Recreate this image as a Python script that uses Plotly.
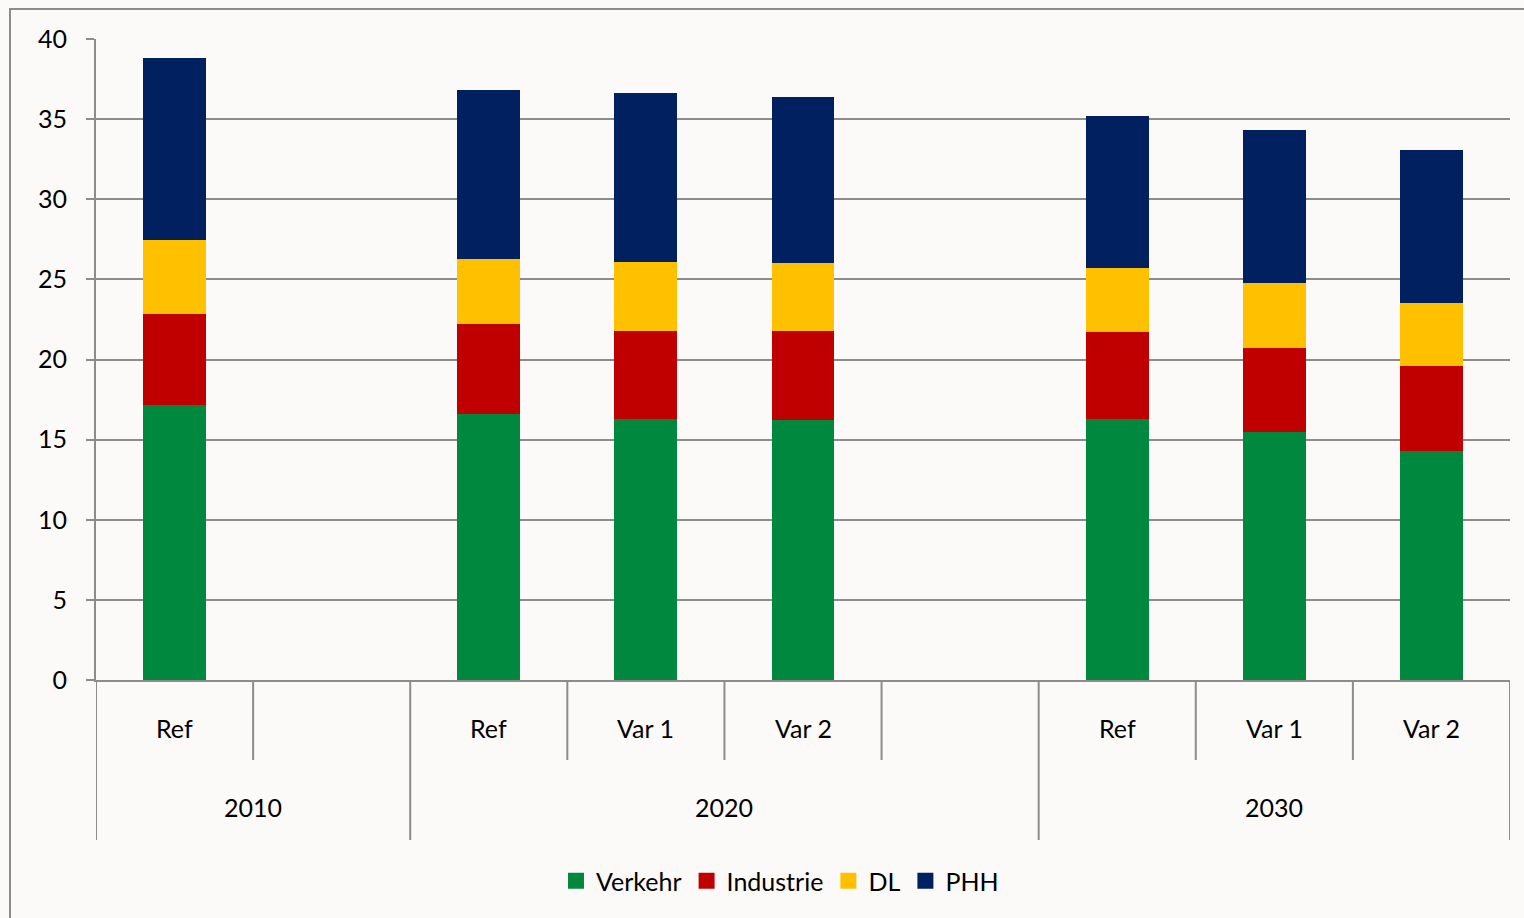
import plotly.graph_objects as go

# ---- data ----
years = ["2010", "2010", "2020", "2020", "2020", "2020", "2030", "2030", "2030"]
scenarios = ["Ref", "", "Ref", "Var 1", "Var 2", "", "Ref", "Var 1", "Var 2"]
verkehr   = [17.15, None, 16.6, 16.3, 16.2, None, 16.3, 15.5, 14.3]
industrie = [5.7,   None, 5.6,  5.5,  5.6,  None, 5.4,  5.2,  5.3]
dl        = [4.6,   None, 4.1,  4.3,  4.2,  None, 4.0,  4.1,  3.9]
phh       = [11.35, None, 10.5, 10.5, 10.4, None, 9.5,  9.5,  9.6]
series_names = ["Verkehr", "Industrie", "DL", "PHH"]
series_values = [verkehr, industrie, dl, phh]
series_colors = ["#00893E", "#C00000", "#FFC000", "#002060"]
y_ticks = [0, 5, 10, 15, 20, 25, 30, 35, 40]

cats = [f"{y}|{s}|{i}" for i, (y, s) in enumerate(zip(years, scenarios))]

FONT = "Lato"
FS = 25
GRAY = "#8c8c8c"

fig = go.Figure()
for name, vals, col in zip(series_names, series_values, series_colors):
    fig.add_trace(go.Bar(x=cats, y=vals, name=name, showlegend=False,
                         marker=dict(color=col, line=dict(width=0))))
# legend entries with larger square swatches
for name, col in zip(series_names, series_colors):
    fig.add_trace(go.Scatter(x=[None], y=[None], mode="markers", name=name,
                             marker=dict(symbol="square", size=16, color=col)))

# plot area geometry (pixels)
L, R, T, B = 96, 14, 39, 238
W, H = 1524, 918
pw, ph = W - L - R, H - T - B

def py(pix):  # pixel y -> paper y
    return (H - B - pix) / ph

def px(pix):
    return (pix - L) / pw

shapes = []
annotations = []
n = len(cats)
bounds = [0]
for i in range(1, n):
    if years[i] != years[i - 1]:
        bounds.append(i)
bounds.append(n)
for i in range(n + 1):
    is_group = i in bounds
    y1 = py(840) if is_group else py(760)
    shapes.append(dict(type="line", xref="x", yref="paper", x0=i - 0.5, x1=i - 0.5,
                       y0=0, y1=y1, line=dict(color=GRAY, width=2)))
for i, s in enumerate(scenarios):
    if s:
        annotations.append(dict(x=cats[i], y=py(728), xref="x", yref="paper", text=s,
                                showarrow=False, font=dict(family=FONT, size=FS, color="black"),
                                xanchor="center", yanchor="middle"))
for a, b in zip(bounds[:-1], bounds[1:]):
    annotations.append(dict(x=(a + b - 1) / 2, y=py(807), xref="x", yref="paper", text=years[a],
                            showarrow=False, font=dict(family=FONT, size=FS, color="black"),
                            xanchor="center", yanchor="middle"))
shapes.append(dict(type="rect", xref="paper", yref="paper", x0=px(10), x1=px(1535),
                   y0=py(930), y1=py(9), line=dict(color=GRAY, width=2), layer="below"))

fig.update_layout(
    width=W, height=H,
    margin=dict(l=L, r=R, t=T, b=B),
    barmode="stack",
    bargap=0.6,
    paper_bgcolor="#fbfaf9",
    plot_bgcolor="#fbfaf9",
    font=dict(family=FONT, size=FS, color="black"),
    showlegend=True,
    legend=dict(orientation="h", x=px(780), xanchor="center", y=py(881), yanchor="middle",
                traceorder="normal", font=dict(family=FONT, size=FS, color="black"),
                itemwidth=30, bgcolor="rgba(0,0,0,0)"),
    xaxis=dict(type="category", categoryorder="array", categoryarray=cats,
               showticklabels=False, showgrid=False, ticks="",
               range=[-0.5, n - 0.5], showline=True, linecolor=GRAY, linewidth=2,
               zeroline=False, fixedrange=True),
    yaxis=dict(range=[0, 40], tickvals=y_ticks, showgrid=True, gridcolor=GRAY, gridwidth=2,
               ticks="outside", ticklen=8, tickcolor=GRAY, tickwidth=2,
               showline=True, linecolor=GRAY, linewidth=2, zeroline=False,
               ticklabelstandoff=14, tickfont=dict(family=FONT, size=FS, color="black")),
    shapes=shapes,
    annotations=annotations,
)

fig.write_html("out.html")
